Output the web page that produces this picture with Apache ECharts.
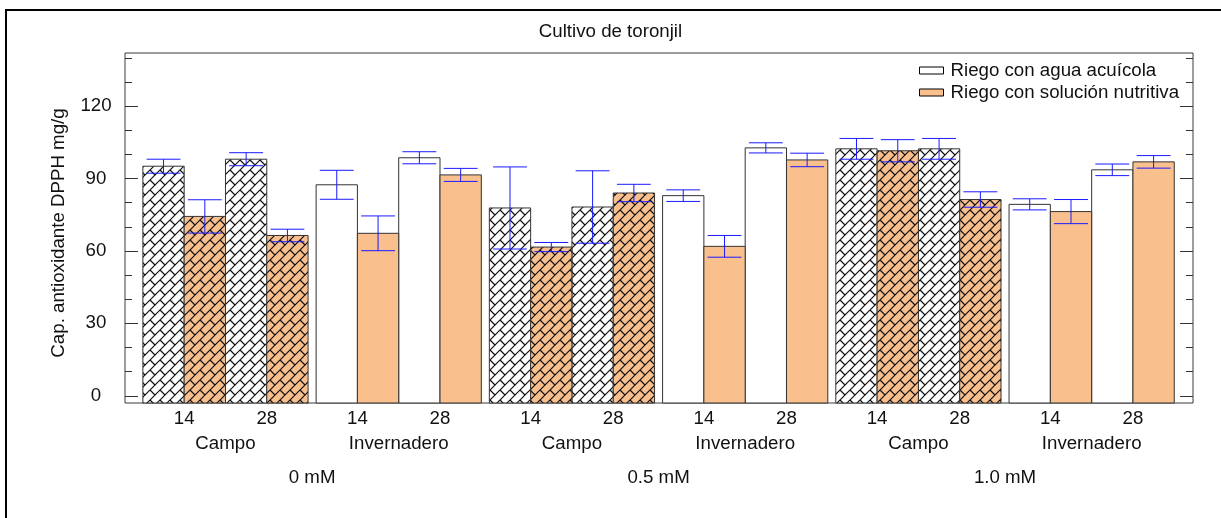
<!DOCTYPE html>
<html>
<head>
<meta charset="utf-8">
<title>Cultivo de toronjil</title>
<script src="https://cdn.jsdelivr.net/npm/echarts@6.0.0/dist/echarts.min.js"></script>
<style>
  html, body { margin: 0; padding: 0; background: #fff; }
  #main { width: 1221px; height: 518px; }
</style>
</head>
<body>
<div id="main"></div>
<script>
// datos (orden: concentración > sitio > día)
var concentraciones = ['0 mM', '0.5 mM', '1.0 mM']
var sitios = ['Campo', 'Invernadero']
var dias = ['14', '28']
var aguaMedia = [95.1, 98.0, 87.4, 98.6, 77.8, 78.2, 82.9, 102.7, 102.3, 102.3, 79.3, 93.6]
var aguaError = [2.9, 2.7, 6.0, 2.5, 17.0, 15.0, 2.4, 2.1, 4.3, 4.3, 2.3, 2.4]
var solMedia = [74.3, 66.4, 67.3, 91.5, 61.6, 84.0, 61.9, 97.7, 101.5, 81.3, 76.3, 96.9]
var solError = [6.9, 2.6, 7.2, 2.7, 1.9, 3.6, 4.5, 2.8, 4.6, 3.2, 5.0, 2.6]
var yMarcas = [0, 30, 60, 90, 120]
var yMarcasMenores = [10, 20, 40, 50, 70, 80, 100, 110, 130, 140]

var FUENTE = '"Liberation Sans", Arial, sans-serif'
var TAM = 18.7
var NARANJA = '#f9c08e'
var AZUL = '#1a1aff'
var BORDE = '#333'
var ANCHO_BARRA = 0.2384   // fracción del paso entre grupos

// trama tipo "escamas" para las parcelas de campo
function crearTrama(fondo) {
  var t = 10
  var c = document.createElement('canvas')
  c.width = t
  c.height = t
  var ctx = c.getContext('2d')
  ctx.fillStyle = fondo
  ctx.fillRect(0, 0, t, t)
  ctx.strokeStyle = '#111'
  ctx.lineWidth = 1.2
  ctx.lineCap = 'round'
  ctx.beginPath()
  ctx.moveTo(-1, t + 1); ctx.lineTo(t + 1, -1)
  ctx.moveTo(-1, 1); ctx.lineTo(1, -1)
  ctx.moveTo(t - 1, t + 1); ctx.lineTo(t + 1, t - 1)
  ctx.moveTo(0.5, 0.5); ctx.lineTo(t / 2, t / 2)
  ctx.stroke()
  return c
}
var tramaBlanca = { image: crearTrama('#fff'), repeat: 'repeat' }
var tramaNaranja = { image: crearTrama(NARANJA), repeat: 'repeat' }

function armarDatos(medias, errores) {
  return medias.map(function (m, i) {
    return [Math.floor(i / dias.length), i % dias.length, m, errores[i]]
  })
}

function dibujarBarra(params, api) {
  var g = api.value(0)
  var d = api.value(1)
  var media = api.value(2)
  var err = api.value(3)
  var serie = params.seriesIndex
  var cs = params.coordSys
  var ancho = api.size([1, 0])[0] * ANCHO_BARRA
  var centro = api.coord([g, 0])[0]
  var x0 = centro - 2 * ancho + (d * 2 + serie) * ancho
  var yTop = api.coord([g, media])[1]
  var yBase = cs.y + cs.height
  var campo = g % sitios.length === 0
  var relleno = serie === 0 ? (campo ? tramaBlanca : '#fff') : (campo ? tramaNaranja : NARANJA)
  var yAlto = api.coord([g, media + err])[1]
  var yBajo = api.coord([g, media - err])[1]
  var xc = x0 + ancho / 2
  var tapa = ancho * 0.41
  var linea = { stroke: AZUL, lineWidth: 1 }
  return {
    type: 'group',
    children: [
      { type: 'rect', shape: { x: x0, y: yTop, width: ancho, height: yBase - yTop }, style: { fill: relleno, stroke: BORDE, lineWidth: 1 } },
      { type: 'line', shape: { x1: xc, y1: yAlto, x2: xc, y2: yBajo }, style: linea },
      { type: 'line', shape: { x1: xc - tapa, y1: yAlto, x2: xc + tapa, y2: yAlto }, style: linea },
      { type: 'line', shape: { x1: xc - tapa, y1: yBajo, x2: xc + tapa, y2: yBajo }, style: linea }
    ]
  }
}

var ejeX = { type: 'value', min: -0.58, max: 5.585, position: 'bottom', axisLine: { show: false, onZero: false }, axisTick: { show: false }, splitLine: { show: false } }
var etiqueta = { fontSize: TAM, fontFamily: FUENTE, color: '#111', hideOverlap: false }

var posDias = []
for (var g = 0; g < concentraciones.length * sitios.length; g++) {
  posDias.push(g - ANCHO_BARRA, g + ANCHO_BARRA)
}

var ejeY = { type: 'value', min: -3, max: 142, axisLine: { show: false, onZero: false }, splitLine: { show: false } }

var chart = echarts.init(document.getElementById('main'))
chart.setOption({
  animation: false,
  backgroundColor: '#fff',
  graphic: [{
    type: 'rect', z: -10,
    shape: { x: 6, y: 10, width: 1300, height: 600 },
    style: { fill: 'none', stroke: '#000', lineWidth: 2 }
  }],
  title: {
    text: 'Cultivo de toronjil',
    left: 'center', top: 22, padding: 0,
    textStyle: { fontSize: TAM, fontWeight: 'normal', fontFamily: FUENTE, color: '#111' }
  },
  legend: {
    orient: 'vertical', left: 919, top: 61, padding: 0,
    itemWidth: 24, itemHeight: 7, itemGap: 3, icon: 'rect',
    selectedMode: false,
    textStyle: { fontSize: TAM, fontFamily: FUENTE, color: '#111', padding: [0, 0, 0, 2] },
    data: [
      { name: 'Riego con agua acuícola', itemStyle: { color: '#fff', borderColor: '#000', borderWidth: 1 } },
      { name: 'Riego con solución nutritiva', itemStyle: { color: NARANJA, borderColor: '#000', borderWidth: 1 } }
    ]
  },
  grid: {
    left: 125, top: 53, right: 28, bottom: 115,
    show: true, borderColor: '#3a3a3a', borderWidth: 1,
    outerBoundsMode: 'none'
  },
  xAxis: [
    Object.assign({}, ejeX, {
      axisLabel: Object.assign({}, etiqueta, {
        margin: 6.5,
        customValues: posDias,
        formatter: function (v) { return dias[v < Math.round(v) ? 0 : 1] }
      })
    }),
    Object.assign({}, ejeX, {
      axisLabel: Object.assign({}, etiqueta, {
        margin: 31,
        customValues: [0, 1, 2, 3, 4, 5],
        formatter: function (v) { return sitios[Math.round(v) % sitios.length] }
      })
    }),
    Object.assign({}, ejeX, {
      axisLabel: Object.assign({}, etiqueta, {
        margin: 65,
        customValues: concentraciones.map(function (c, i) { return i * sitios.length + 0.5 }),
        formatter: function (v) { return concentraciones[Math.round((v - 0.5) / sitios.length)] }
      })
    })
  ],
  yAxis: [
    Object.assign({}, ejeY, {
      position: 'left',
      name: 'Cap. antioxidante DPPH mg/g',
      nameLocation: 'middle', nameGap: 57,
      nameTextStyle: { fontSize: TAM, fontFamily: FUENTE, color: '#111', padding: [0, 10, 0, 0] },
      axisTick: { inside: true, length: 13, customValues: yMarcas, lineStyle: { color: BORDE } },
      axisLabel: Object.assign({}, etiqueta, { margin: 29, align: 'center', customValues: yMarcas })
    }),
    Object.assign({}, ejeY, {
      position: 'left',
      axisTick: { inside: true, length: 7, customValues: yMarcasMenores, lineStyle: { color: BORDE } },
      axisLabel: { show: false }
    }),
    Object.assign({}, ejeY, {
      position: 'right',
      axisTick: { inside: true, length: 13, customValues: yMarcas, lineStyle: { color: BORDE } },
      axisLabel: { show: false }
    }),
    Object.assign({}, ejeY, {
      position: 'right',
      axisTick: { inside: true, length: 7, customValues: yMarcasMenores, lineStyle: { color: BORDE } },
      axisLabel: { show: false }
    })
  ],
  series: [
    {
      name: 'Riego con agua acuícola',
      type: 'custom',
      renderItem: dibujarBarra,
      itemStyle: { color: '#fff', borderColor: '#000' },
      encode: { x: 0, y: 2 },
      data: armarDatos(aguaMedia, aguaError)
    },
    {
      name: 'Riego con solución nutritiva',
      type: 'custom',
      renderItem: dibujarBarra,
      itemStyle: { color: NARANJA, borderColor: '#000' },
      encode: { x: 0, y: 2 },
      data: armarDatos(solMedia, solError)
    }
  ]
})
</script>
</body>
</html>
